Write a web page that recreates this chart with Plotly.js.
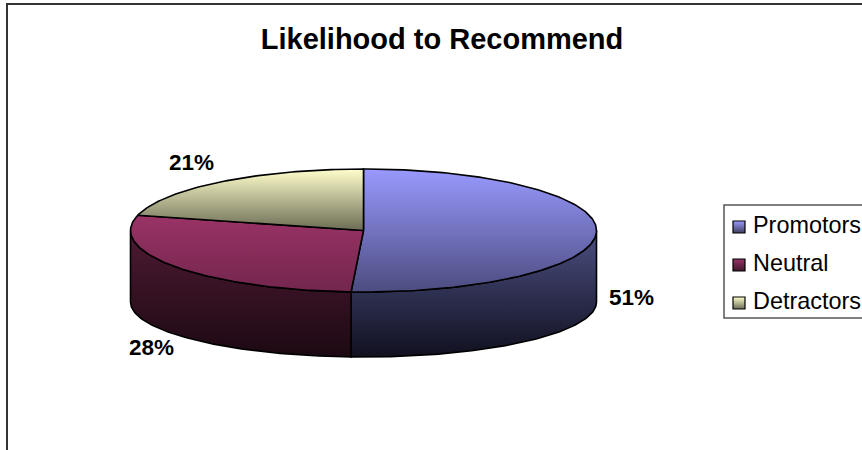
<!DOCTYPE html>
<html>
<head>
<meta charset="utf-8">
<script src="https://cdn.plot.ly/plotly-3.0.1.min.js"></script>
<style>html,body{margin:0;padding:0;background:#fff;overflow:hidden}</style>
</head>
<body>
<div id="chart" style="width:862px;height:450px"></div>
<script>
var categories = ["Promotors", "Neutral", "Detractors"];
var values = [50.85, 28.15, 21];
var titleText = "Likelihood to Recommend";
var faceColors = [["#9999ff", "#4c4c80"], ["#993366", "#73264d"], ["#ffffcc", "#6c6c55"]];
var sideColors = [["#4c4f82", "#10101f"], ["#4d1a33", "#1c0912"], ["#666650", "#333328"]];
var swatchColors = ["#9999ff", "#993366", "#ffffcc"];
var labelPos = [[631, 297], [151, 347], [191, 162]];

var W = 862, H = 450;
var cx = 363.5, topY = 230.5, topB = 61.5, botY = 302, botB = 55, rx = 233;
var total = values.reduce(function (a, b) { return a + b; }, 0);

function pt(deg, cy, b) {
  var r = deg * Math.PI / 180;
  return [cx + rx * Math.sin(r), cy - b * Math.cos(r)];
}
function arc(a0, a1, cy, b) {
  var out = [], n = Math.max(2, Math.ceil(Math.abs(a1 - a0)));
  for (var i = 0; i <= n; i++) out.push(pt(a0 + (a1 - a0) * i / n, cy, b));
  return out;
}
function poly(points, colors, start, stop) {
  return {
    type: "scatter", mode: "lines", hoverinfo: "skip", showlegend: false,
    x: points.map(function (p) { return p[0]; }),
    y: points.map(function (p) { return p[1]; }),
    line: { color: "#000", width: 1.6 },
    fill: "toself",
    fillgradient: { type: "vertical", start: start, stop: stop,
      colorscale: [[0, colors[0]], [1, colors[1]]] }
  };
}

var sides = [], faces = [], cum = 0;
values.forEach(function (v, i) {
  var a0 = cum / total * 360, a1 = (cum + v) / total * 360;
  cum += v;
  var s0 = Math.max(a0, 90), s1 = Math.min(a1, 270);
  if (s1 > s0) {
    var pts = arc(s0, s1, topY, topB).concat(arc(s1, s0, botY, botB));
    pts.push(pts[0]);
    sides.push(poly(pts, sideColors[i], topY, botY + botB));
  }
  var face = [[cx, topY]].concat(arc(a0, a1, topY, topB));
  face.push([cx, topY]);
  var ys = face.map(function (p) { return p[1]; });
  faces.push(poly(face, faceColors[i], Math.min.apply(null, ys), Math.max.apply(null, ys)));
});

var legendX = 739, swatchY = [227, 265, 303], legendY = [225, 263, 301], legendTextX = 751;
var swatches = {
  type: "scatter", mode: "markers", hoverinfo: "skip", showlegend: false,
  x: swatchY.map(function () { return legendX; }), y: swatchY,
  marker: { symbol: "square", size: 12, color: swatchColors,
    line: { color: "#000", width: 1.2 },
    gradient: { type: "vertical", color: ["#40405f", "#40182c", "#6c6c55"] } }
};

var annotations = values.map(function (v, i) {
  return { x: labelPos[i][0], y: labelPos[i][1], xref: "x", yref: "y", text: Math.round(v) + "%",
    showarrow: false, xanchor: "center", yanchor: "middle",
    font: { family: "Liberation Sans, Arial, sans-serif", size: 22.5, color: "#000", weight: 700 } };
}).concat(categories.map(function (c, i) {
  return { x: legendTextX, y: legendY[i], xref: "x", yref: "y", text: c,
    showarrow: false, xanchor: "left", yanchor: "middle",
    font: { family: "Liberation Sans, Arial, sans-serif", size: 23.4, color: "#000" } };
}));

var noAxis = { visible: false, fixedrange: true };
Plotly.newPlot("chart", sides.concat(faces, [swatches]), {
  width: W, height: H, margin: { l: 0, r: 0, t: 0, b: 0 },
  paper_bgcolor: "#fff", plot_bgcolor: "#fff", showlegend: false,
  title: { text: titleText, x: 442 / W, xanchor: "center", y: 1 - 39 / H, yanchor: "middle",
    font: { family: "Liberation Sans, Arial, sans-serif", size: 29, color: "#000", weight: 700 } },
  xaxis: Object.assign({ range: [0, W] }, noAxis),
  yaxis: Object.assign({ range: [H, 0] }, noAxis),
  annotations: annotations,
  shapes: [
    { type: "rect", xref: "x", yref: "y", x0: 724, x1: 870, y0: 205, y1: 318, line: { color: "#555", width: 1.5 } },
    { type: "line", xref: "x", yref: "y", x0: 7, x1: 7, y0: 4, y1: 452, line: { color: "#333", width: 2 } },
    { type: "line", xref: "x", yref: "y", x0: 6, x1: 864, y0: 4, y1: 4, line: { color: "#333", width: 2 } }
  ]
}, { displayModeBar: false, staticPlot: true });
</script>
</body>
</html>
